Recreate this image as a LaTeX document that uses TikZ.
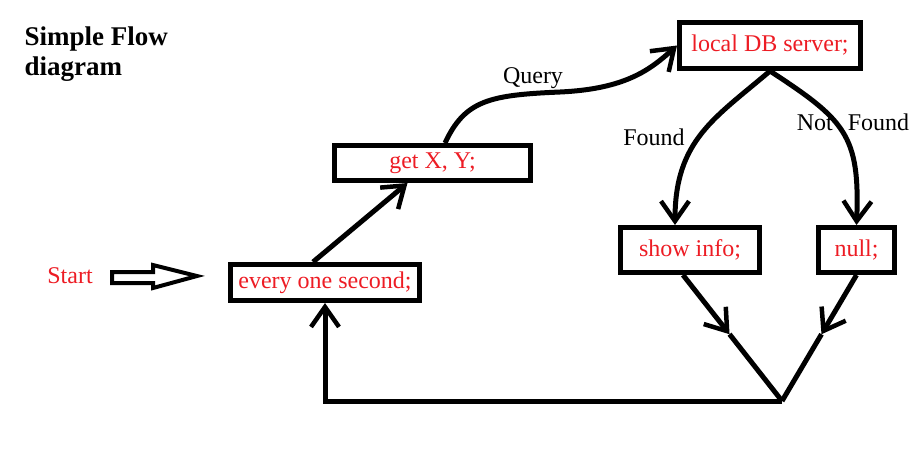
\documentclass[tikz,border=0pt]{standalone}
\usepackage{fontspec}
\setmainfont{Liberation Serif}
\usetikzlibrary{arrows.meta,calc}
\definecolor{paintred}{RGB}{237,28,36}

\begin{document}
\begin{tikzpicture}[x=1pt,y=-1pt,line width=5pt,
  box/.style={draw,rectangle,inner sep=0pt,text=paintred,font=\fontsize{24}{28}\selectfont},
  lbl/.style={font=\fontsize{24}{28}\selectfont,anchor=base},
  >={Straight Barb[length=20pt,width=28pt,line width=4.5pt]}]
 \useasboundingbox (0,0) rectangle (912,448);   % same frame as the picture
 \node[anchor=base west,align=left,inner xsep=0pt,font=\fontsize{27}{30}\selectfont\bfseries] (title) at (22,75) {Simple Flow\\diagram};
 \node[lbl,text=paintred] (start) at (70,283) {Start};
 \draw[line width=4pt,line join=miter] (112,272)--(153,272)--(153,265)--(197,276)--(153,288)--(153,283)--(112,283)--cycle;
 \node[box,minimum width=189pt,minimum height=36pt] (every) at (325,282.5) {every one second;};
 \node[box,minimum width=196pt,minimum height=35pt] (getxy) at (432.5,163) {get X, Y;};
 \node[box,minimum width=181pt,minimum height=46pt] (localdb) at (770,45.5) {local DB server;};
 \node[box,minimum width=139pt,minimum height=45pt] (show) at (690,250) {show info;};
 \node[box,minimum width=76pt,minimum height=45pt] (null) at (856.5,250) {null;};
 \coordinate (join) at (782,401);
 % connectors
 \draw[->] ([xshift=-12pt]every.north) -- ([xshift=-25pt]getxy.south);
 \draw[->] ([xshift=12.5pt]getxy.north) .. controls (465,100) and (490,95) .. (560,92) .. controls (625,89) and (650,70) .. (localdb.west);
 \node[lbl] (query) at (533,83) {Query};
 \draw[->] (localdb.south) .. controls (715,118) and (675,140) .. ([xshift=-15pt]show.north);
 \node[lbl] (found) at (654,145) {Found};
 \draw[->] (localdb.south) .. controls (845,120) and (860,135) .. (null.north);
 \node[lbl,inner xsep=0pt] (notfound) at (853,130) {Not\hspace{15pt}Found};
 \draw[->] ([xshift=-7pt]show.south) -- ($([xshift=-7pt]show.south)!0.47!(join)$);
 \draw ($([xshift=-7pt]show.south)!0.47!(join)$) -- (join);
 \draw[->] (null.south) -- ($(null.south)!0.47!(join)$);
 \draw ($(null.south)!0.47!(join)$) -- (join);
 \draw[->] (join) -| (every.south);
\end{tikzpicture}
\end{document}
